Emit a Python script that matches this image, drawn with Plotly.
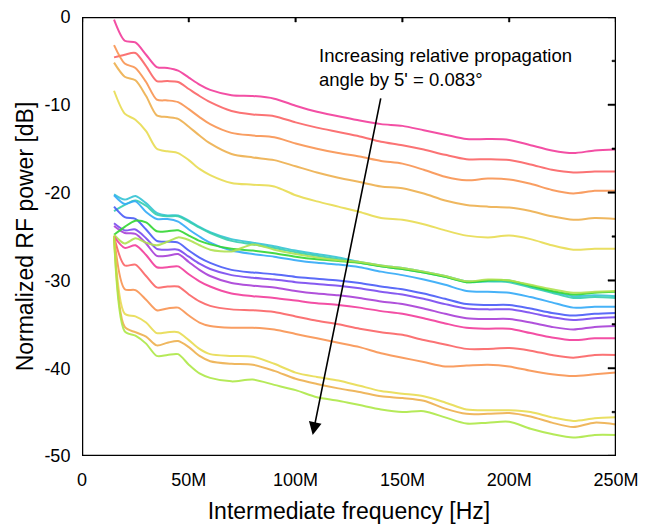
import plotly.graph_objects as go

# Frequency grid (MHz)
freq_mhz = [15, 20, 25, 30, 35, 40, 45, 50, 55, 60, 70, 80, 90, 100, 110, 120,
            130, 140, 150, 160, 170, 180, 190, 200, 210, 220, 230, 240, 250]

# Upper group
top_magenta = [-0.3, -2.7, -2.9, -4.3, -5.7, -5.8, -6.1, -6.9, -7.7, -8.3, -8.9, -9.0, -9.3, -10.1, -10.8, -11.3,
               -11.8, -12.2, -12.4, -12.9, -13.4, -13.9, -13.9, -14.0, -14.6, -15.2, -15.5, -15.2, -15.1]
top_salmon = [-4.6, -4.3, -4.1, -5.6, -7.3, -7.3, -7.4, -8.2, -9.0, -9.7, -10.7, -11.1, -11.3, -12.0, -12.6, -13.1,
              -13.6, -14.2, -14.6, -15.1, -15.7, -16.2, -16.2, -16.3, -16.8, -17.4, -17.7, -17.6, -17.6]
top_orange = [-3.2, -5.3, -5.8, -7.4, -9.4, -9.5, -9.7, -10.5, -11.4, -12.2, -13.2, -13.5, -13.7, -14.4, -15.0, -15.5,
              -15.9, -16.4, -16.7, -17.4, -18.2, -18.6, -18.4, -18.5, -19.0, -19.7, -20.1, -19.8, -19.8]
top_lightorange = [-5.2, -6.8, -7.2, -9.0, -11.2, -11.4, -11.6, -12.5, -13.5, -14.4, -15.6, -16.0, -16.3, -17.0, -17.7, -18.3,
                   -18.8, -19.3, -19.5, -20.1, -20.9, -21.4, -21.6, -21.7, -22.1, -22.7, -23.1, -22.9, -23.0]
top_yellow = [-8.4, -11.0, -11.7, -13.0, -15.0, -15.3, -15.5, -16.3, -17.3, -18.0, -18.9, -19.1, -19.3, -20.3, -21.0, -21.6,
              -22.2, -22.9, -23.1, -23.6, -24.3, -24.9, -25.1, -24.9, -25.3, -26.0, -26.5, -26.4, -26.4]

# Lower group
low_cyan = [-20.2, -20.8, -20.4, -21.2, -22.3, -22.6, -22.6, -23.2, -23.9, -24.5, -25.3, -25.7, -26.1, -26.6, -27.0, -27.4,
            -27.9, -28.3, -28.6, -29.0, -29.5, -30.1, -30.1, -30.1, -30.7, -31.3, -31.8, -31.7, -31.8]
low_teal = [-22.1, -21.4, -20.9, -21.5, -22.5, -22.7, -22.7, -23.3, -24.0, -24.6, -25.5, -25.9, -26.3, -26.8, -27.2, -27.6,
            -28.0, -28.4, -28.7, -29.1, -29.6, -30.2, -30.1, -30.2, -30.8, -31.4, -32.0, -31.9, -32.0]
low_lightblue = [-20.3, -21.3, -21.0, -22.2, -23.0, -23.0, -23.3, -24.2, -25.0, -25.7, -26.6, -27.0, -27.3, -27.7, -28.0, -28.2,
                 -28.5, -29.0, -29.4, -29.9, -30.5, -31.2, -31.3, -31.4, -31.9, -32.5, -33.1, -33.0, -33.0]
low_blue = [-21.6, -22.8, -23.0, -24.2, -25.5, -25.6, -25.7, -26.6, -27.4, -28.0, -28.8, -29.1, -29.3, -29.6, -29.8, -30.0,
            -30.3, -30.7, -31.0, -31.5, -32.1, -32.7, -32.8, -32.8, -33.2, -33.7, -34.0, -33.8, -33.7]
low_violet = [-23.5, -24.3, -24.2, -25.2, -26.4, -26.5, -26.5, -27.3, -28.1, -28.7, -29.4, -29.7, -29.9, -30.2, -30.4, -30.6,
              -30.9, -31.3, -31.6, -32.1, -32.7, -33.2, -33.3, -33.3, -33.7, -34.2, -34.5, -34.3, -34.2]
low_purple = [-23.8, -24.6, -24.7, -25.8, -27.2, -27.2, -27.0, -27.9, -28.8, -29.5, -30.3, -30.6, -30.8, -31.2, -31.5, -31.7,
              -32.0, -32.4, -32.7, -33.2, -33.8, -34.3, -34.4, -34.4, -34.8, -35.3, -35.6, -35.3, -35.2]
low_green = [-24.8, -23.9, -23.2, -23.4, -24.4, -24.4, -24.3, -24.9, -25.5, -25.9, -26.4, -26.6, -26.9, -27.3, -27.6, -27.8,
             -28.0, -28.4, -28.7, -29.1, -29.6, -30.2, -30.0, -30.0, -30.6, -31.2, -31.6, -31.4, -31.3]
low_lime = [-24.8, -25.8, -25.2, -25.7, -26.0, -25.6, -25.1, -25.4, -26.0, -26.5, -26.7, -25.9, -26.5, -27.0, -27.4, -27.7,
            -27.9, -28.3, -28.6, -29.0, -29.5, -30.1, -29.9, -30.0, -30.5, -31.0, -31.4, -31.3, -31.2]
low_magenta = [-25.0, -26.3, -26.0, -27.1, -28.5, -28.5, -28.4, -29.3, -30.1, -30.7, -31.5, -31.8, -32.0, -32.3, -32.6, -32.8,
               -33.1, -33.5, -33.8, -34.3, -34.9, -35.4, -35.5, -35.5, -36.0, -36.5, -36.8, -36.6, -36.6]
low_red = [-25.0, -28.3, -28.2, -29.5, -30.8, -30.7, -30.7, -31.6, -32.4, -32.9, -33.3, -33.4, -33.6, -34.1, -34.6, -35.0,
           -35.5, -35.9, -36.2, -36.8, -37.3, -37.8, -37.8, -37.7, -38.0, -38.5, -38.8, -38.5, -38.5]
low_orange = [-25.0, -31.0, -31.1, -32.2, -33.4, -33.2, -33.1, -34.0, -34.8, -35.2, -35.4, -35.4, -35.6, -36.1, -36.6, -37.1,
              -37.6, -38.3, -38.8, -39.3, -39.8, -39.7, -39.6, -39.8, -40.3, -40.7, -40.9, -40.7, -40.5]
low_yellow = [-25.0, -33.8, -34.1, -34.8, -36.0, -35.9, -35.9, -36.8, -37.8, -38.4, -38.6, -38.7, -39.5, -40.5, -41.0, -41.4,
              -42.0, -42.6, -42.9, -43.2, -43.9, -44.7, -44.8, -44.8, -45.0, -45.6, -46.0, -45.7, -45.6]
low_lightorange = [-25.0, -35.3, -35.9, -36.4, -37.4, -37.1, -36.9, -37.6, -38.6, -39.2, -39.5, -39.6, -40.3, -41.2, -41.8, -42.3,
                   -42.7, -43.2, -43.4, -43.7, -44.6, -45.2, -45.2, -45.1, -45.5, -46.2, -46.7, -46.2, -46.4]
low_lime2 = [-25.0, -35.8, -36.3, -37.2, -38.6, -38.5, -38.4, -39.6, -40.6, -41.1, -41.5, -41.3, -41.9, -42.5, -43.3, -43.7,
             -44.2, -44.7, -45.0, -44.9, -45.6, -46.3, -46.2, -46.1, -46.9, -47.5, -47.9, -47.6, -47.6]

series = [
    (top_magenta, "#f23c9b"), (top_salmon, "#fb6466"), (top_orange, "#f99452"),
    (top_lightorange, "#eeb04e"), (top_yellow, "#e8dc52"),
    (low_cyan, "#35c4d4"), (low_teal, "#35cfb0"), (low_lightblue, "#33aaf8"),
    (low_blue, "#4a5cf8"), (low_violet, "#7a4af0"), (low_purple, "#a83fd8"),
    (low_green, "#33d633"), (low_lime, "#b0e250"),
    (low_magenta, "#f23c9b"), (low_red, "#fb6466"), (low_orange, "#f99452"),
    (low_yellow, "#e8dc52"), (low_lightorange, "#eeb04e"), (low_lime2, "#aee848"),
]

x_ticks = [0, 50, 100, 150, 200, 250]
x_ticktext = ["0", "50M", "100M", "150M", "200M", "250M"]
y_ticks = [0, -10, -20, -30, -40, -50]
y_ticktext = ["0", "-10", "-20", "-30", "-40", "-50"]
y_minor = [-5, -15, -25, -35, -45]

FONT = "Arial, Liberation Sans, sans-serif"
x_hz = [f * 1e6 for f in freq_mhz]
x_tick_hz = [v * 1e6 for v in x_ticks]

xr = [0, 250e6]
yr = [-50, 0]
W, H = 647, 516
ML, MR, MT, MB = 74, 39, 9, 68
hz_per_px = (xr[1] - xr[0]) / (W - ML - MR)
db_per_px = (yr[1] - yr[0]) / (H - MT - MB)

fig = go.Figure()
for vals, col in series:
    fig.add_trace(go.Scatter(x=x_hz, y=vals, mode="lines",
                             line=dict(color=col, width=2, shape="spline", smoothing=0.8),
                             opacity=0.9, showlegend=False, hoverinfo="skip"))

# Frame and tick marks as thin filled bars (left/bottom ticks outside, top/right inside)
fx, fy = [], []


def bar(x0, x1, y0, y1):
    fx.extend([x0, x1, x1, x0, x0, None])
    fy.extend([y0, y0, y1, y1, y0, None])


hx, hy = 1.0 * hz_per_px, 1.0 * db_per_px      # half of the 2 px frame width
tx, ty = 0.75 * hz_per_px, 0.75 * db_per_px    # half of the 1.5 px tick width
bar(xr[0] - hx, xr[1] + hx, yr[0] - hy, yr[0] + hy)   # bottom
bar(xr[0] - hx, xr[1] + hx, yr[1] - hy, yr[1] + hy)   # top
bar(xr[0] - hx, xr[0] + hx, yr[0] - hy, yr[1] + hy)   # left
bar(xr[1] - hx, xr[1] + hx, yr[0] - hy, yr[1] + hy)   # right
for xv in x_tick_hz:
    bar(xv - tx, xv + tx, yr[0] - 6 * db_per_px, yr[0])
    bar(xv - tx, xv + tx, yr[1] - 5 * db_per_px, yr[1])
for yv in y_ticks:
    bar(xr[0] - 5 * hz_per_px, xr[0], yv - ty, yv + ty)
    bar(xr[1] - 8 * hz_per_px, xr[1], yv - ty, yv + ty)
for yv in y_minor:
    bar(xr[0] - 5 * hz_per_px, xr[0], yv - ty, yv + ty)
    bar(xr[1] - 4 * hz_per_px, xr[1], yv - ty, yv + ty)
fig.add_trace(go.Scatter(x=fx, y=fy, mode="lines", fill="toself", fillcolor="black",
                         line=dict(color="black", width=0.5),
                         cliponaxis=False, connectgaps=False, showlegend=False, hoverinfo="skip"))

CLEAR = "rgba(0,0,0,0)"
# page body has an 8 px margin: figure is 647x516 so the plot lands where the reference has it
fig.update_layout(
    template="none",
    width=W, height=H,
    margin=dict(l=ML, r=MR, t=MT, b=MB, autoexpand=False),
    paper_bgcolor="white", plot_bgcolor="white",
    font=dict(family=FONT, size=18, color="black"),
    xaxis=dict(range=xr, tickvals=x_tick_hz, ticktext=x_ticktext,
               ticks="outside", ticklen=7, tickcolor=CLEAR,
               showline=False, showgrid=False, zeroline=False,
               tickfont=dict(size=18), automargin=False, ticklabeloverflow="allow",
               title=dict(text="Intermediate frequency [Hz]", font=dict(size=23), standoff=14)),
    yaxis=dict(range=yr, tickvals=y_ticks, ticktext=y_ticktext,
               ticks="outside", ticklen=7, tickcolor=CLEAR,
               showline=False, showgrid=False, zeroline=False,
               tickfont=dict(size=18), automargin=False, ticklabeloverflow="allow",
               title=dict(text="Normalized RF power [dB]", font=dict(size=23), standoff=4)),
)

fig.add_annotation(x=108e6, y=-47.6, ax=140e6, ay=-9.1, xref="x", yref="y", axref="x", ayref="y",
                   text="", showarrow=True, arrowhead=2, arrowsize=1.6, arrowwidth=1.6, arrowcolor="black")
fig.add_annotation(x=110.0e6, y=-3.0, xref="x", yref="y", xanchor="left", yanchor="top", align="left",
                   text="Increasing relative propagation<br>angle by 5' = 0.083°", showarrow=False,
                   font=dict(size=18.5, family=FONT, color="black"))

fig.write_html("out.html")
